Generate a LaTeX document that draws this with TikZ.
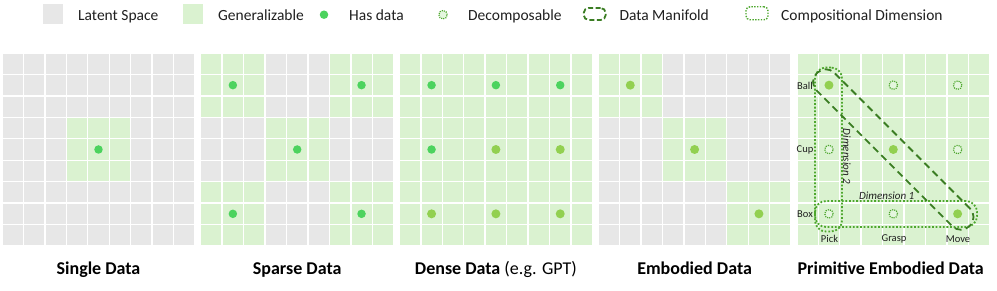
\documentclass[tikz,border=0pt]{standalone}
\usepackage{fontspec}
\setmainfont{Carlito}
\usetikzlibrary{calc}
\definecolor{latcol}{HTML}{E7E7E7}
\definecolor{gencol}{HTML}{DAF2D0}
\definecolor{brightdot}{HTML}{4CD35E}
\definecolor{yeldot}{HTML}{92D050}
\definecolor{manicol}{HTML}{3B7D23}
\definecolor{compcol}{HTML}{4EA72E}
\definecolor{decofill}{HTML}{E4F6DE}
\definecolor{decoline}{HTML}{4EA72E}
\newcommand\cs{21.444}
\newcommand\gblock[3]{\fill[gencol] ({2+198.7*#1+3*\cs*#3},{53+3*\cs*#2}) rectangle ++({3*\cs},{3*\cs});}
\newcommand\mydot[5]{\node[#4] (#5) at ({2+198.7*#1+(3*#3+1.5)*\cs},{53+(3*#2+1.5)*\cs}) {};}
\begin{document}
\begin{tikzpicture}[x=1pt,y=-1pt,
  bdot/.style={circle,fill=brightdot,inner sep=0pt,minimum size=8.5pt},
  ydot/.style={circle,fill=yeldot,inner sep=0pt,minimum size=9pt},
  ddot/.style={circle,fill=decofill,draw=decoline,line width=1.2pt,dash pattern=on 1.1pt off 1.1pt,inner sep=0pt,minimum size=8.5pt},
  legtxt/.style={font=\fontsize{15.5}{18}\selectfont,anchor=base west,inner sep=0pt,text=black!88},
  title/.style={font=\fontsize{18}{21}\selectfont\bfseries,anchor=base,inner sep=0pt},
  axlab/.style={font=\fontsize{10.5}{12}\selectfont,inner sep=0pt,text=black!88},
  manifold/.style={draw=manicol,line width=1.8pt,dash pattern=on 7pt off 4.5pt},
  compdim/.style={draw=compcol,line width=1.8pt,dash pattern=on 1.8pt off 1.8pt}]
\useasboundingbox (0,0) rectangle (997,291);
% panels background
\foreach \p in {0,...,4}{
  \fill[latcol] ({2+198.7*\p},53) rectangle ++(193,193);
}
% generalizable blocks
\gblock{0}{1}{1}
\gblock{1}{0}{0}\gblock{1}{0}{2}\gblock{1}{1}{1}\gblock{1}{2}{0}\gblock{1}{2}{2}
\foreach \r in {0,1,2}{\foreach \b in {0,1,2}{\gblock{2}{\r}{\b}\gblock{4}{\r}{\b}}}
\gblock{3}{0}{0}\gblock{3}{1}{1}\gblock{3}{2}{2}
% grid lines
\foreach \p in {0,...,4}{
  \foreach \k in {0,...,9}{
    \draw[white,line width=1.4pt] ({2+198.7*\p+\k*\cs},53) -- ++(0,193);
    \draw[white,line width=1.4pt] ({2+198.7*\p},{53+\k*\cs}) -- ++(193,0);
  }
}
% data points
\mydot{0}{1}{1}{bdot}{a11}
\mydot{1}{0}{0}{bdot}{b00}\mydot{1}{0}{2}{bdot}{b02}\mydot{1}{1}{1}{bdot}{b11}
\mydot{1}{2}{0}{bdot}{b20}\mydot{1}{2}{2}{bdot}{b22}
\mydot{2}{0}{0}{bdot}{c00}\mydot{2}{0}{1}{bdot}{c01}\mydot{2}{0}{2}{bdot}{c02}
\mydot{2}{1}{0}{bdot}{c10}\mydot{2}{1}{1}{ydot}{c11}\mydot{2}{1}{2}{ydot}{c12}
\mydot{2}{2}{0}{ydot}{c20}\mydot{2}{2}{1}{ydot}{c21}\mydot{2}{2}{2}{ydot}{c22}
\mydot{3}{0}{0}{ydot}{d00}\mydot{3}{1}{1}{ydot}{d11}\mydot{3}{2}{2}{ydot}{d22}
\mydot{4}{0}{0}{ydot}{e00}\mydot{4}{1}{1}{ydot}{e11}\mydot{4}{2}{2}{ydot}{e22}
\mydot{4}{0}{1}{ddot}{e01}\mydot{4}{0}{2}{ddot}{e02}\mydot{4}{1}{0}{ddot}{e10}
\mydot{4}{1}{2}{ddot}{e12}\mydot{4}{2}{0}{ddot}{e20}\mydot{4}{2}{1}{ddot}{e21}
% primitive panel annotations
\node[axlab] (ball) at (805,85.5) {Ball};
\node[axlab] (cup) at (805,150) {Cup};
\node[axlab] (box) at (805,214) {Box};
\node[axlab] (pick) at (829.5,239) {Pick};
\node[axlab] (grasp) at (894,239) {Grasp};
\node[axlab] (move) at (958,239) {Move};
\node[compdim,rounded corners=11pt,minimum width=27pt,minimum height=164pt,inner sep=0pt] (dim2box) at (828.5,149.5) {};
\node[compdim,rounded corners=11pt,minimum width=162pt,minimum height=26pt,inner sep=0pt] (dim1box) at (896,214) {};
\node[manifold,rounded corners=12pt,minimum width=216pt,minimum height=25pt,inner sep=0pt,rotate=-45] (mani) at ($(e00)!0.5!(e22)$) {};
\node[font=\fontsize{11}{13}\selectfont\itshape,inner sep=0pt,text=black!88] (dim1) at (886.7,195.5) {Dimension 1};
\node[font=\fontsize{11}{13}\selectfont\itshape,inner sep=0pt,rotate=-90,text=black!88] (dim2) at (846.8,156.5) {Dimension 2};
% legend
\fill[latcol] (43,4) rectangle (63,24);
\node[legtxt] (l1) at (78,20.5) {Latent Space};
\fill[gencol] (183,4) rectangle (203,24);
\node[legtxt] (l2) at (218,20.5) {Generalizable};
\node[bdot] (lg3) at (324,14.7) {};
\node[legtxt] (l3) at (349,20.5) {Has data};
\node[ddot] (lg4) at (443,14.7) {};
\node[legtxt] (l4) at (468,20.5) {Decomposable};
\node[manifold,rounded corners=5pt,minimum width=22pt,minimum height=12pt,inner sep=0pt,dash pattern=on 5pt off 2.5pt] (lg5) at (594.7,14) {};
\node[legtxt] (l5) at (619.3,20.5) {Data Manifold};
\node[compdim,rounded corners=4pt,minimum width=22pt,minimum height=13pt,inner sep=0pt,line width=1.4pt,dash pattern=on 1.4pt off 1.4pt] (lg6) at (757,13.3) {};
\node[legtxt] (l6) at (781,20.5) {Compositional Dimension};
% titles
\node[title] (t1) at (98.5,274.3) {Single Data};
\node[title] (t2) at (297.2,274.3) {Sparse Data};
\node[title] (t3) at (495.9,274.3) {Dense Data \mdseries(e.g. GPT)};
\node[title] (t4) at (694.6,274.3) {Embodied Data};
\node[title] (t5) at (890.7,274.3) {Primitive Embodied Data};
\end{tikzpicture}
\end{document}
